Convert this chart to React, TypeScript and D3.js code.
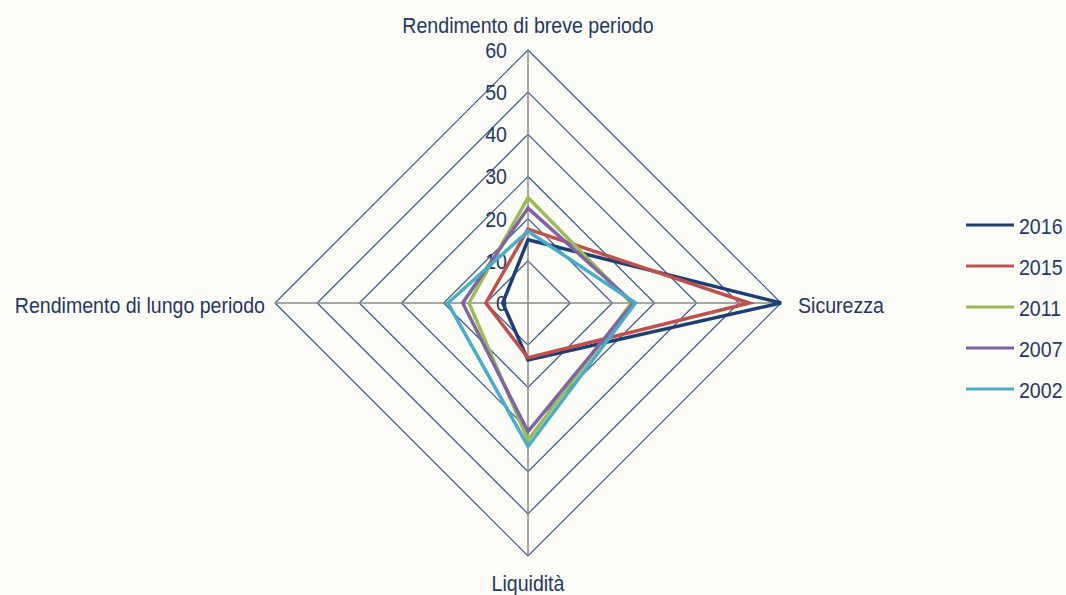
import { useEffect, useRef } from "react"
import * as d3 from "d3"

// assi del radar (in senso orario dall'alto)
const axes = ["Rendimento di breve periodo", "Sicurezza", "Liquidità", "Rendimento di lungo periodo"]
const ticks = [0, 10, 20, 30, 40, 50, 60]
const years = ["2016", "2015", "2011", "2007", "2002"]
const colors = ["#1f3f73", "#c0504d", "#9bbb59", "#8064a2", "#4bacc6"]

// valori per anno: [breve, sicurezza, liquidità, lungo]
const v2016 = [15, 60, 13.5, 6]
const v2015 = [17.5, 52.5, 13, 10]
const v2011 = [25, 24.5, 32.5, 14]
const v2007 = [22.5, 25, 30.5, 15.5]
const v2002 = [17, 25.5, 34, 19]
const series = [v2016, v2015, v2011, v2007, v2002]

const SX = 0.89

export default function App() {
  const svgRef = useRef(null)

  useEffect(() => {
    if (!svgRef.current) return
    const svg = d3.select(svgRef.current)
    svg.selectAll("*").remove()

    const width = 1066
    const height = 595
    const cx = 528
    const cy = 303
    const textColor = "#1f3864"
    const font = "'Liberation Sans', Arial, sans-serif"

    svg.append("rect").attr("width", width).attr("height", height).attr("fill", "#fdfdf8")

    const r = d3.scaleLinear().domain([0, 60]).range([0, 253])
    const angle = (i) => (i * Math.PI) / 2

    const g = svg.append("g").attr("transform", `translate(${cx},${cy})`)

    // griglia a rombo
    ticks.slice(1).forEach((t) => {
      g.append("path")
        .datum(axes.map(() => t))
        .attr("fill", "none")
        .attr("stroke", "#34558a")
        .attr("stroke-width", 1.2)
        .attr(
          "d",
          d3
            .lineRadial()
            .angle((d, i) => angle(i))
            .radius((d) => r(d))
            .curve(d3.curveLinearClosed),
        )
    })

    // raggi
    axes.forEach((a, i) => {
      g.append("line")
        .attr("x1", 0)
        .attr("y1", 0)
        .attr("x2", Math.sin(angle(i)) * r(60))
        .attr("y2", -Math.cos(angle(i)) * r(60))
        .attr("stroke", "#8a8a8a")
        .attr("stroke-width", 1.5)
    })

    // etichette dei valori
    ticks.forEach((t) => {
      g.append("text")
        .attr("transform", `scale(${SX},1)`)
        .attr("x", -21 / SX)
        .attr("y", -r(t))
        .attr("text-anchor", "end")
        .attr("dominant-baseline", "central")
        .attr("font-family", font)
        .attr("font-size", 22)
        .attr("fill", textColor)
        .text(t)
    })

    // serie
    series.forEach((s, k) => {
      g.append("path")
        .datum(s)
        .attr("fill", "none")
        .attr("stroke", colors[k])
        .attr("stroke-width", 3.5)
        .attr("stroke-linejoin", "miter")
        .attr(
          "d",
          d3
            .lineRadial()
            .angle((d, i) => angle(i))
            .radius((d) => r(d))
            .curve(d3.curveLinearClosed),
        )
    })

    // nomi degli assi
    const label = (txt, x, y, anchor) =>
      svg
        .append("text")
        .attr("transform", `scale(${SX},1)`)
        .attr("x", x / SX)
        .attr("y", y)
        .attr("text-anchor", anchor)
        .attr("dominant-baseline", "central")
        .attr("font-family", font)
        .attr("font-size", 22)
        .attr("fill", textColor)
        .text(txt)

    label(axes[0], cx, 25, "middle")
    label(axes[1], cx + r(60) + 17, cy + 2, "start")
    label(axes[2], cx, 583, "middle")
    label(axes[3], cx - r(60) - 10, cy + 2, "end")

    // legenda
    const legend = svg.append("g").attr("transform", "translate(966,225)")
    years.forEach((y, i) => {
      const lg = legend.append("g").attr("transform", `translate(0,${i * 41})`)
      lg.append("line")
        .attr("x1", 0)
        .attr("x2", 48)
        .attr("y1", 0)
        .attr("y2", 0)
        .attr("stroke", colors[i])
        .attr("stroke-width", 3)
      lg.append("text")
        .attr("transform", `scale(${SX},1)`)
        .attr("x", 53 / SX)
        .attr("y", 1)
        .attr("dominant-baseline", "central")
        .attr("font-family", font)
        .attr("font-size", 22)
        .attr("fill", textColor)
        .text(y)
    })

    svg.attr("width", width).attr("height", height).attr("viewBox", [0, 0, width, height])
  }, [])

  return (
    <svg
      ref={svgRef}
      style={{ position: "absolute", left: 0, top: 0, display: "block" }}
    ></svg>
  )
}
